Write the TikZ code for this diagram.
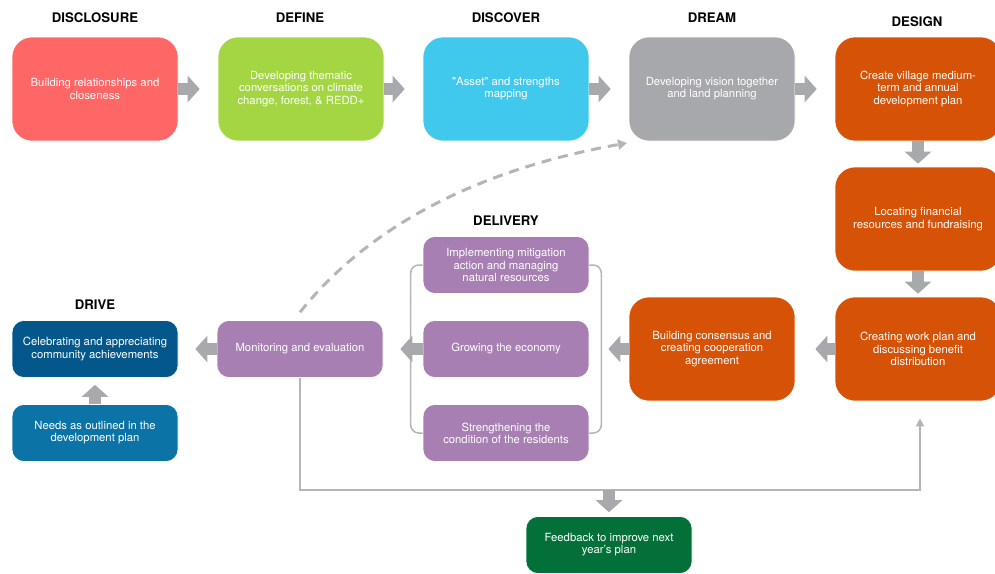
\documentclass[tikz,border=0pt]{standalone}
\usepackage{fontspec}
\setmainfont{TeX Gyre Heros}
\usetikzlibrary{arrows.meta}
\definecolor{dsred}{HTML}{FF6666}
\definecolor{dfgreen}{HTML}{A4D644}
\definecolor{dccyan}{HTML}{40C9EC}
\definecolor{drgray}{HTML}{A7A8AB}
\definecolor{dgorange}{HTML}{D55207}
\definecolor{dlpurple}{HTML}{A77FB2}
\definecolor{dvnavy}{HTML}{04578B}
\definecolor{dvblue}{HTML}{0B73A6}
\definecolor{fbgreen}{HTML}{03703A}
\definecolor{flowgray}{HTML}{A7A9AC}
\definecolor{linegray}{HTML}{B5B5B5}

\begin{document}
\begin{tikzpicture}[x=1pt, y=-1pt, font=\fontsize{11.3}{12.2}\selectfont,
    stage/.style={draw=white, line width=0.6pt, rounded corners=20pt, text=white, align=center,
      minimum width=166pt, minimum height=104pt, inner sep=2pt},
    task/.style={draw=white, line width=0.6pt, rounded corners=12pt, text=white, align=center,
      minimum width=166pt, minimum height=57pt, inner sep=2pt},
    title/.style={font=\fontsize{13.2}{15}\selectfont\bfseries, text=black},
    flow/.style={draw=flowgray, line width=12pt, -{Triangle[length=12pt, width=26pt]}},
    bracket/.style={draw=linegray, line width=1.5pt, rounded corners=8pt},
    feedline/.style={draw=linegray, line width=2pt},
    recall/.style={draw=linegray, line width=3pt, dash pattern=on 10pt off 7pt,
      -{Triangle[length=9pt, width=10pt]}},
  ]
  \useasboundingbox (0,0) rectangle (995,573);

  % stage titles
  \node[title] (t-disclosure) at (95,18) {DISCLOSURE};
  \node[title] (t-define) at (300,18) {DEFINE};
  \node[title] (t-discover) at (506,18) {DISCOVER};
  \node[title] (t-dream) at (712,18) {DREAM};
  \node[title] (t-design) at (917,22) {DESIGN};
  \node[title] (t-delivery) at (506,221) {DELIVERY};
  \node[title] (t-drive) at (95,305) {DRIVE};

  % top row
  \node[stage, fill=dsred] (disclosure) at (95,89) {Building relationships and\\closeness};
  \node[stage, fill=dfgreen] (define) at (301,89) {Developing thematic\\conversations on climate\\change, forest, \& REDD+};
  \node[stage, fill=dccyan] (discover) at (506,89) {\textquotedbl Asset\textquotedbl{} and strengths\\mapping};
  \node[stage, fill=drgray] (dream) at (712,89) {Developing vision together\\and land planning};
  \node[stage, fill=dgorange] (design) at (918,89) {Create village medium-\\term and annual\\development plan};

  % design column and back row
  \node[stage, fill=dgorange] (locating) at (918,219) {Locating financial\\resources and fundraising};
  \node[stage, fill=dgorange] (creating) at (918,349) {Creating work plan and\\discussing benefit\\distribution};
  \node[stage, fill=dgorange] (consensus) at (712,349) {Building consensus and\\creating cooperation\\agreement};

  % delivery
  \node[task, fill=dlpurple] (implementing) at (506,265) {Implementing mitigation\\action and managing\\natural resources};
  \node[task, fill=dlpurple] (growing) at (506,349) {Growing the economy};
  \node[task, fill=dlpurple] (strengthening) at (506,433) {Strengthening the\\condition of the residents};
  \draw[bracket] (implementing.west) -- ++(-12,0) |- (strengthening.west);
  \draw[bracket] (implementing.east) -- ++(12,0) |- (strengthening.east);

  \node[task, fill=dlpurple] (monitoring) at (300,349) {Monitoring and evaluation};

  % drive
  \node[task, fill=dvnavy] (celebrating) at (95,349) {Celebrating and appreciating\\community achievements};
  \node[task, fill=dvblue] (needs) at (95,433) {Needs as outlined in the\\development plan};

  \node[task, fill=fbgreen] (feedback) at (609,545) {Feedback to improve next\\year's plan};

  % block arrows
  \draw[flow, shorten >=18pt] (disclosure) -- (define);
  \draw[flow, shorten >=18pt] (define) -- (discover);
  \draw[flow, shorten >=18pt] (discover) -- (dream);
  \draw[flow, shorten >=18pt] (dream) -- (design);
  \draw[flow, shorten >=3pt] (design) -- (locating);
  \draw[flow, shorten >=3pt] (locating) -- (creating);
  \draw[flow, shorten >=20pt] (creating) -- (consensus);
  \draw[flow, shorten >=19pt] (consensus) -- (growing);
  \draw[flow, shorten >=17pt] (growing) -- (monitoring);
  \draw[flow, shorten >=17pt] (monitoring) -- (celebrating);
  \draw[flow, shorten >=7pt] (needs) -- (celebrating);

  % feedback loop
  \coordinate (fbjoin) at (609,490);
  \draw[feedline, -{Triangle[length=8pt, width=8pt]}] (monitoring.south) |- (fbjoin)
    -| ([xshift=2pt, yshift=-17pt]creating.south);
  \draw[flow, shorten >=4pt] (fbjoin) -- (feedback);

  % back to dream
  \coordinate (recallend) at (627,143);
  \draw[recall] ([yshift=8pt]monitoring.north) .. controls (368,227) and (476,170) .. (recallend);
\end{tikzpicture}
\end{document}
